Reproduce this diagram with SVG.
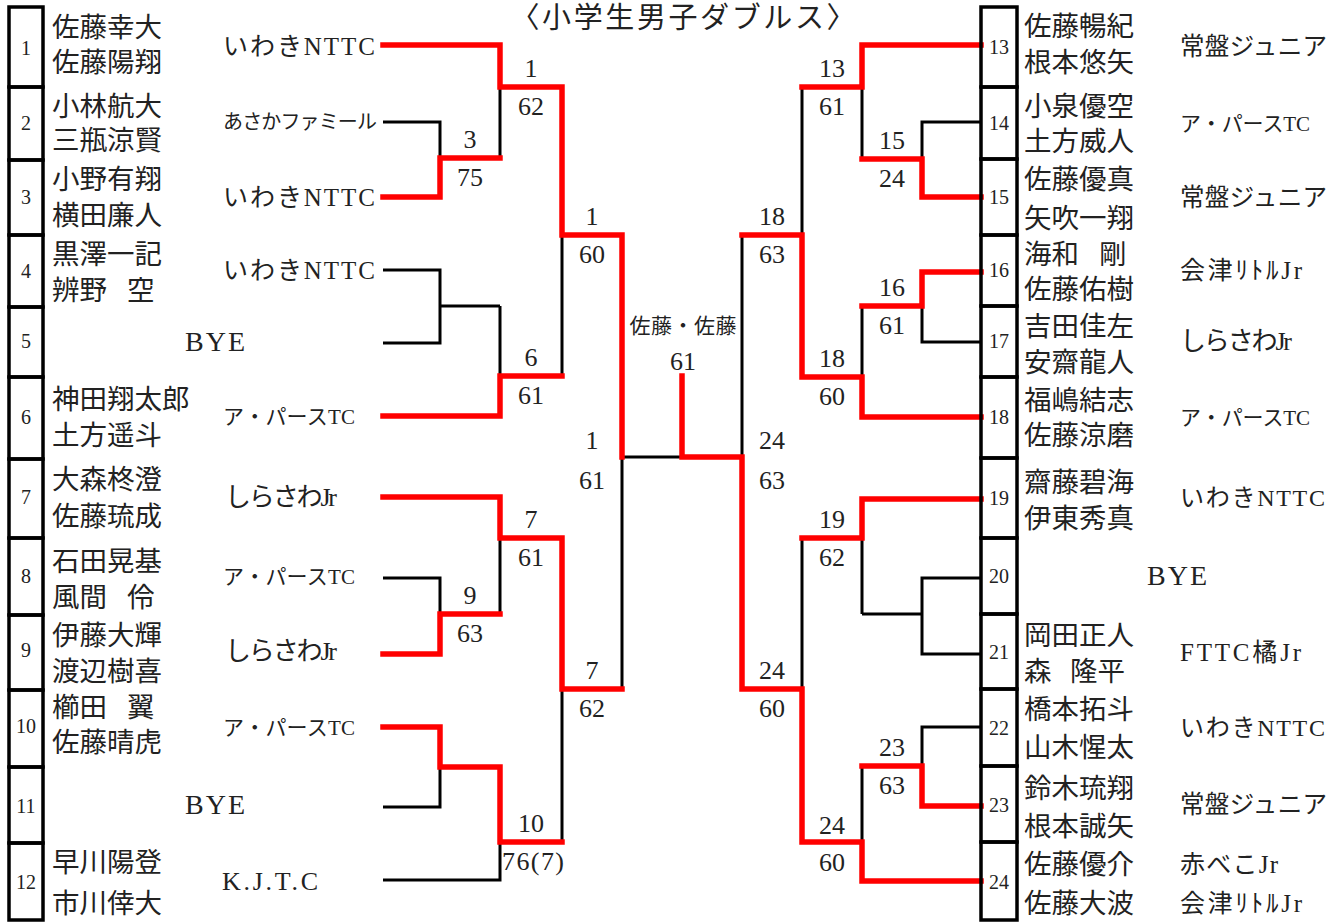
<svg xmlns="http://www.w3.org/2000/svg" width="1343" height="922" viewBox="0 0 1343 922">
<style>
.box{fill:none;stroke:#000;stroke-width:3.5}
.num{font-family:"Liberation Serif","Noto Sans CJK JP",serif;font-size:20px;fill:#222;text-anchor:middle}
.nm{font-family:"Liberation Serif","Noto Sans CJK JP",serif;font-size:27.5px;fill:#222}
.tm{font-family:"Liberation Serif","Noto Sans CJK JP",serif;fill:#222}
.sc{font-family:"Liberation Serif","Noto Sans CJK JP",serif;font-size:26px;fill:#222;text-anchor:middle}
.bk{fill:none;stroke:#000;stroke-width:3}
.rd{fill:none;stroke:#f00;stroke-width:5.5;stroke-linecap:square}
.ttl{font-family:"Liberation Serif","Noto Sans CJK JP",serif;font-size:29px;fill:#222;text-anchor:middle}
</style>
<rect width="1343" height="922" fill="#fff"/>
<text class="ttl" x="683" y="28" textLength="345">〈小学生男子ダブルス〉</text>

<g id="connectors">
<path class="bk" d="M383,122H440V197H383 M440,158H500 M383,270H440V343H383 M440,306H500 M383,578H440V654H383 M440,614H500 M383,727H440V807H383 M440,767H500 M383,45H500V158 M500,87H562 M500,306V416H383 M500,376H562 M383,497H500V614 M500,538H562 M500,767V880H383 M500,842H562 M562,87V376 M562,235H622 M562,538V842 M562,689H622 M622,235V689 M622,457H742 M742,235V689"/>
<path class="bk" d="M802,87V377 M742,235H802 M802,538V842 M742,689H802 M981,45H862V159 M802,87H862 M862,306V417H981 M802,377H862 M981,499H862V614 M802,538H862 M862,766V881H981 M802,842H862 M981,122H922V197H981 M862,159H922 M981,272H922V342H981 M862,306H922 M981,578H922V654H981 M862,614H922 M981,727H922V806H981 M862,766H922"/>
<path class="rd" d="M383,45H500V87H562V235H622V457"/>
<path class="rd" d="M383,197H440V158H500"/>
<path class="rd" d="M383,416H500V376H562"/>
<path class="rd" d="M383,497H500V538H562V689H622"/>
<path class="rd" d="M383,654H440V614H500"/>
<path class="rd" d="M383,727H440V767H500V842H562"/>
<path class="rd" d="M981,45H862V87H802"/>
<path class="rd" d="M981,197H922V159H862"/>
<path class="rd" d="M981,272H922V306H862"/>
<path class="rd" d="M981,417H862V377H802V235H742"/>
<path class="rd" d="M981,499H862V538H802"/>
<path class="rd" d="M981,806H922V766H862"/>
<path class="rd" d="M981,881H862V842H802V689H742V457H682V376"/>
</g>

<g id="scores">
<text class="sc" x="531" y="77">1</text><text class="sc" x="531" y="115">62</text>
<text class="sc" x="470" y="148">3</text><text class="sc" x="470" y="186">75</text>
<text class="sc" x="592" y="225">1</text><text class="sc" x="592" y="263">60</text>
<text class="sc" x="531" y="366">6</text><text class="sc" x="531" y="404">61</text>
<text class="sc" x="531" y="528">7</text><text class="sc" x="531" y="566">61</text>
<text class="sc" x="470" y="604">9</text><text class="sc" x="470" y="642">63</text>
<text class="sc" x="592" y="679">7</text><text class="sc" x="592" y="717">62</text>
<text class="sc" x="531" y="832">10</text><text class="sc" x="533" y="870" textLength="62">76(7)</text>
<text class="sc" x="592" y="449">1</text><text class="sc" x="592" y="489">61</text>
<text class="sc" x="832" y="77">13</text><text class="sc" x="832" y="115">61</text>
<text class="sc" x="892" y="149">15</text><text class="sc" x="892" y="187">24</text>
<text class="sc" x="772" y="225">18</text><text class="sc" x="772" y="263">63</text>
<text class="sc" x="892" y="296">16</text><text class="sc" x="892" y="334">61</text>
<text class="sc" x="832" y="367">18</text><text class="sc" x="832" y="405">60</text>
<text class="sc" x="772" y="449">24</text><text class="sc" x="772" y="489">63</text>
<text class="sc" x="832" y="528">19</text><text class="sc" x="832" y="566">62</text>
<text class="sc" x="772" y="679">24</text><text class="sc" x="772" y="717">60</text>
<text class="sc" x="892" y="756">23</text><text class="sc" x="892" y="794">63</text>
<text class="sc" x="832" y="834">24</text><text class="sc" x="832" y="871">60</text>
</g>

<g id="champion">
<text class="tm" x="683" y="332.5" font-size="21" text-anchor="middle" textLength="107">佐藤・佐藤</text>
<text class="sc" x="683" y="369.5">61</text>
</g>

<g id="e1"><rect class="box" x="9" y="7" width="34" height="80"/><text class="num" x="26" y="54.5">1</text><text class="nm" x="52" y="37">佐藤幸大</text><text class="nm" x="52" y="72">佐藤陽翔</text><text class="tm" x="223" y="55" font-size="25" textLength="152">いわきNTTC</text></g>
<g id="e2"><rect class="box" x="9" y="87" width="34" height="73"/><text class="num" x="26" y="129.5">2</text><text class="nm" x="52" y="116">小林航大</text><text class="nm" x="52" y="150">三瓶涼賢</text><text class="tm" x="223" y="129" font-size="20" textLength="154">あさかファミール</text></g>
<g id="e3"><rect class="box" x="9" y="160" width="34" height="75"/><text class="num" x="26" y="203.5">3</text><text class="nm" x="52" y="189">小野有翔</text><text class="nm" x="52" y="225">横田廉人</text><text class="tm" x="223" y="205.5" font-size="25" textLength="152">いわきNTTC</text></g>
<g id="e4"><rect class="box" x="9" y="235" width="34" height="72"/><text class="num" x="26" y="277.5">4</text><text class="nm" x="52" y="264">黒澤一記</text><text class="nm" x="52" y="300">辨野 <tspan x="127">空</tspan></text><text class="tm" x="223" y="278.5" font-size="25" textLength="152">いわきNTTC</text></g>
<g id="e5"><rect class="box" x="9" y="307" width="34" height="70"/><text class="num" x="26" y="347.5">5</text><text class="tm" x="215" y="351" font-size="28" text-anchor="middle" textLength="60">BYE</text></g>
<g id="e6"><rect class="box" x="9" y="377" width="34" height="82"/><text class="num" x="26" y="423.5">6</text><text class="nm" x="52" y="409">神田翔太郎</text><text class="nm" x="52" y="445">土方遥斗</text><text class="tm" x="223" y="423.5" font-size="21" textLength="132">ア・パースTC</text></g>
<g id="e7"><rect class="box" x="9" y="459" width="34" height="79"/><text class="num" x="26" y="503.5">7</text><text class="nm" x="52" y="489">大森柊澄</text><text class="nm" x="52" y="526">佐藤琉成</text><text class="tm" x="225" y="506" font-size="26" textLength="112">しらさわJr</text></g>
<g id="e8"><rect class="box" x="9" y="538" width="34" height="77"/><text class="num" x="26" y="582.5">8</text><text class="nm" x="52" y="571">石田晃基</text><text class="nm" x="52" y="607">風間 <tspan x="127">伶</tspan></text><text class="tm" x="223" y="583.5" font-size="21" textLength="132">ア・パースTC</text></g>
<g id="e9"><rect class="box" x="9" y="615" width="34" height="75"/><text class="num" x="26" y="656.5">9</text><text class="nm" x="52" y="645">伊藤大輝</text><text class="nm" x="52" y="681">渡辺樹喜</text><text class="tm" x="225" y="660" font-size="26" textLength="112">しらさわJr</text></g>
<g id="e10"><rect class="box" x="9" y="690" width="34" height="77"/><text class="num" x="26" y="732.5">10</text><text class="nm" x="52" y="717">櫛田 <tspan x="127">翼</tspan></text><text class="nm" x="52" y="752">佐藤晴虎</text><text class="tm" x="223" y="734.5" font-size="21" textLength="132">ア・パースTC</text></g>
<g id="e11"><rect class="box" x="9" y="767" width="34" height="76"/><text class="num" x="26" y="812.5">11</text><text class="tm" x="215" y="814" font-size="28" text-anchor="middle" textLength="60">BYE</text></g>
<g id="e12"><rect class="box" x="9" y="843" width="34" height="77"/><text class="num" x="26" y="888.5">12</text><text class="nm" x="52" y="872">早川陽登</text><text class="nm" x="52" y="913">市川倖大</text><text class="tm" x="222" y="890" font-size="26" textLength="96">K.J.T.C</text></g>

<g id="e13"><rect class="box" x="981" y="7" width="36" height="80"/><text class="num" x="999" y="53.5">13</text><text class="nm" x="1024" y="36">佐藤暢紀</text><text class="nm" x="1024" y="72">根本悠矢</text><text class="tm" x="1180" y="54.5" font-size="24.5" textLength="147">常盤ジュニア</text></g>
<g id="e14"><rect class="box" x="981" y="87" width="36" height="72"/><text class="num" x="999" y="129.5">14</text><text class="nm" x="1024" y="116">小泉優空</text><text class="nm" x="1024" y="151">土方威人</text><text class="tm" x="1180" y="130.5" font-size="21" textLength="130">ア・パースTC</text></g>
<g id="e15"><rect class="box" x="981" y="159" width="36" height="76"/><text class="num" x="999" y="203.5">15</text><text class="nm" x="1024" y="189">佐藤優真</text><text class="nm" x="1024" y="228">矢吹一翔</text><text class="tm" x="1180" y="205.5" font-size="24.5" textLength="147">常盤ジュニア</text></g>
<g id="e16"><rect class="box" x="981" y="235" width="36" height="71"/><text class="num" x="999" y="276.5">16</text><text class="nm" x="1024" y="264">海和 <tspan x="1099">剛</tspan></text><text class="nm" x="1024" y="299">佐藤佑樹</text><text class="tm" x="1180" y="278.5" font-size="25" textLength="122">会津ﾘﾄﾙJr</text></g>
<g id="e17"><rect class="box" x="981" y="306" width="36" height="71"/><text class="num" x="999" y="347.5">17</text><text class="nm" x="1024" y="336">吉田佳左</text><text class="nm" x="1024" y="372">安齋龍人</text><text class="tm" x="1180" y="350" font-size="26" textLength="112">しらさわJr</text></g>
<g id="e18"><rect class="box" x="981" y="377" width="36" height="81"/><text class="num" x="999" y="423.5">18</text><text class="nm" x="1024" y="410">福嶋結志</text><text class="nm" x="1024" y="445">佐藤涼磨</text><text class="tm" x="1180" y="424.5" font-size="21" textLength="130">ア・パースTC</text></g>
<g id="e19"><rect class="box" x="981" y="458" width="36" height="80"/><text class="num" x="999" y="504.5">19</text><text class="nm" x="1024" y="492">齋藤碧海</text><text class="nm" x="1024" y="528">伊東秀真</text><text class="tm" x="1180" y="505.5" font-size="24" textLength="145">いわきNTTC</text></g>
<g id="e20"><rect class="box" x="981" y="538" width="36" height="76"/><text class="num" x="999" y="582.5">20</text><text class="tm" x="1177" y="585" font-size="28" text-anchor="middle" textLength="60">BYE</text></g>
<g id="e21"><rect class="box" x="981" y="614" width="36" height="75"/><text class="num" x="999" y="658.5">21</text><text class="nm" x="1024" y="645">岡田正人</text><text class="nm" x="1024" y="681">森 <tspan x="1070">隆平</tspan></text><text class="tm" x="1180" y="660.5" font-size="25" textLength="121">FTTC橘Jr</text></g>
<g id="e22"><rect class="box" x="981" y="689" width="36" height="77"/><text class="num" x="999" y="734.5">22</text><text class="nm" x="1024" y="719">橋本拓斗</text><text class="nm" x="1024" y="757">山木惺太</text><text class="tm" x="1180" y="735.5" font-size="24" textLength="145">いわきNTTC</text></g>
<g id="e23"><rect class="box" x="981" y="766" width="36" height="76"/><text class="num" x="999" y="811.5">23</text><text class="nm" x="1024" y="798">鈴木琉翔</text><text class="nm" x="1024" y="836">根本誠矢</text><text class="tm" x="1180" y="812.5" font-size="24.5" textLength="147">常盤ジュニア</text></g>
<g id="e24"><rect class="box" x="981" y="842" width="36" height="78"/><text class="num" x="999" y="888.5">24</text><text class="nm" x="1024" y="874">佐藤優介</text><text class="nm" x="1024" y="913">佐藤大波</text><text class="tm" x="1180" y="872.5" font-size="25" textLength="98">赤べこJr</text><text class="tm" x="1180" y="911.5" font-size="25" textLength="122">会津ﾘﾄﾙJr</text></g>
</svg>
